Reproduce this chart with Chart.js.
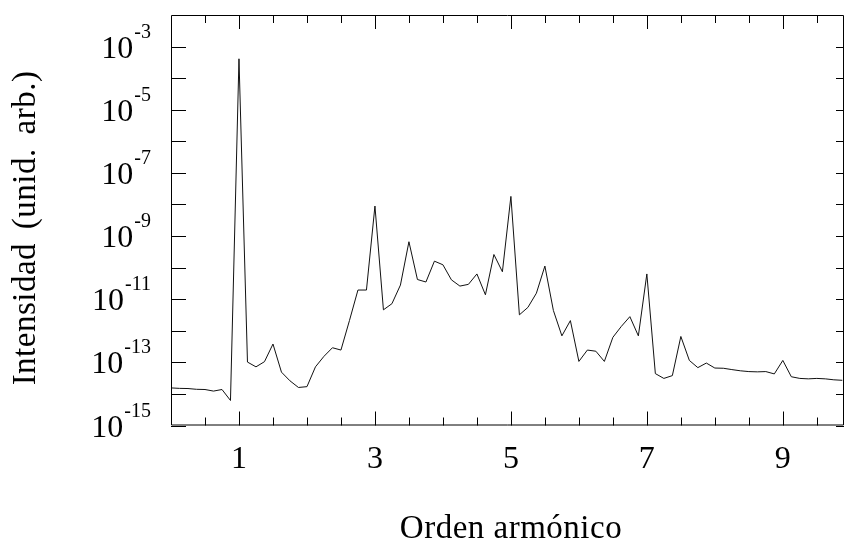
<!DOCTYPE html>
<html><head><meta charset="utf-8">
<script src="https://cdn.jsdelivr.net/npm/chart.js@4/dist/chart.umd.min.js"></script>
<style>html,body{margin:0;padding:0;background:#fff}#wrap{width:845px;height:547px;position:relative}</style>
</head><body><div id="wrap"><canvas id="c"></canvas></div>
<script>
// Harmonic order (x) and intensity (arb. units, y)
const harmonicOrder = [
  0, 0.125, 0.25, 0.375, 0.5, 0.625, 0.75, 0.875,
  1, 1.125, 1.25, 1.375, 1.5, 1.625, 1.75, 1.875,
  2, 2.125, 2.25, 2.375, 2.5, 2.625, 2.75, 2.875,
  3, 3.125, 3.25, 3.375, 3.5, 3.625, 3.75, 3.875,
  4, 4.125, 4.25, 4.375, 4.5, 4.625, 4.75, 4.875,
  5, 5.125, 5.25, 5.375, 5.5, 5.625, 5.75, 5.875,
  6, 6.125, 6.25, 6.375, 6.5, 6.625, 6.75, 6.875,
  7, 7.125, 7.25, 7.375, 7.5, 7.625, 7.75, 7.875,
  8, 8.125, 8.25, 8.375, 8.5, 8.625, 8.75, 8.875,
  9, 9.125, 9.25, 9.375, 9.5, 9.625, 9.75, 9.875
];
const intensity = [
  1.55e-14, 1.5e-14, 1.48e-14, 1.4e-14, 1.38e-14, 1.23e-14, 1.38e-14, 6.2e-15,
  4.1e-4, 1.02e-13, 7.2e-14, 1.05e-13, 3.8e-13, 4.9e-14, 2.6e-14, 1.6e-14,
  1.7e-14, 7.2e-14, 1.55e-13, 2.9e-13, 2.45e-13, 2.1e-12, 1.95e-11, 1.95e-11,
  8.9e-9, 4.6e-12, 7.2e-12, 2.8e-11, 6.6e-10, 4.2e-11, 3.5e-11, 1.6e-10,
  1.23e-10, 4.1e-11, 2.6e-11, 2.95e-11, 6.3e-11, 1.38e-11, 2.6e-10, 7.4e-11,
  1.8e-8, 3.2e-12, 5.5e-12, 1.55e-11, 1.12e-10, 4.4e-12, 6.9e-13, 2.1e-12,
  1.07e-13, 2.45e-13, 2.25e-13, 1.07e-13, 6.2e-13, 1.38e-12, 2.8e-12, 6.9e-13,
  6.3e-11, 4.4e-14, 3.1e-14, 3.8e-14, 6.6e-13, 1.15e-13, 6.8e-14, 9.5e-14,
  6.6e-14, 6.5e-14, 5.9e-14, 5.4e-14, 5.1e-14, 5.0e-14, 5.1e-14, 4.3e-14,
  1.15e-13, 3.5e-14, 3.1e-14, 3.0e-14, 3.1e-14, 3.0e-14, 2.8e-14, 2.7e-14
];
// Axis ticks
const xTickValues = [0.5, 1, 1.5, 2, 2.5, 3, 3.5, 4, 4.5, 5, 5.5, 6, 6.5, 7, 7.5, 8, 8.5, 9, 9.5];
const xTickLabels = [1, 3, 5, 7, 9];
const yTickExponents = [-15, -14, -13, -12, -11, -10, -9, -8, -7, -6, -5, -4, -3];
const yLabelExponents = [-15, -13, -11, -9, -7, -5, -3];
const xTitle = 'Orden armónico';
const yTitle = 'Intensidad (unid. arb.)';

const FONT = "'Liberation Serif', 'Times New Roman', serif";
const points = harmonicOrder.map((x, i) => ({ x: x, y: intensity[i] }));

const framePlugin = {
  id: 'frameTicks',
  afterDatasetsDraw(chart) {
    const { ctx, chartArea: a, scales } = chart;
    const xs = scales.x, ys = scales.y;
    ctx.save();
    ctx.strokeStyle = '#000';
    ctx.lineWidth = 1;
    ctx.beginPath();
    ctx.rect(a.left + 0.5, a.top + 0.5, a.right - a.left - 1, a.bottom - a.top - 1);
    ctx.stroke();
    ctx.beginPath();
    xTickValues.forEach(v => {
      const px = Math.round(xs.getPixelForValue(v)) + 0.5;
      const len = xTickLabels.includes(v) ? 14 : 8;
      ctx.moveTo(px, a.bottom); ctx.lineTo(px, a.bottom - len);
      ctx.moveTo(px, a.top); ctx.lineTo(px, a.top + len);
    });
    yTickExponents.forEach(e => {
      const py = Math.round(ys.getPixelForValue(Math.pow(10, e))) + 0.5;
      ctx.moveTo(a.left, py); ctx.lineTo(a.left + 15, py);
      ctx.moveTo(a.right, py); ctx.lineTo(a.right - 8, py);
    });
    ctx.stroke();
    // y tick labels 10^e
    ctx.fillStyle = '#000';
    ctx.textBaseline = 'alphabetic';
    ctx.textAlign = 'left';
    yLabelExponents.forEach(e => {
      const py = ys.getPixelForValue(Math.pow(10, e));
      const base = '10', sup = '-' + Math.abs(e);
      ctx.font = '32px ' + FONT;
      const wb = ctx.measureText(base).width;
      ctx.font = '20px ' + FONT;
      const ws = ctx.measureText(sup).width;
      const right = 150;
      const xb = right - ws - wb;
      ctx.font = '32px ' + FONT;
      ctx.fillText(base, xb, py + 11);
      ctx.font = '20px ' + FONT;
      ctx.fillText(sup, xb + wb + 1, py - 9);
    });
    // axis titles
    ctx.font = '33px ' + FONT;
    if ('letterSpacing' in ctx) ctx.letterSpacing = '0.5px';
    ctx.textAlign = 'center';
    ctx.textBaseline = 'alphabetic';
    ctx.fillText(xTitle, 511, 538);
    ctx.save();
    if ('wordSpacing' in ctx) ctx.wordSpacing = '5px';
    ctx.translate(35, 228);
    ctx.rotate(-Math.PI / 2);
    ctx.fillText(yTitle, 0, 0);
    ctx.restore();
    ctx.restore();
  }
};

new Chart(document.getElementById('c'), {
  type: 'line',
  data: {
    datasets: [{
      data: points,
      borderColor: '#111',
      borderWidth: 1,
      pointRadius: 0,
      tension: 0,
      fill: false
    }]
  },
  options: {
    responsive: true,
    maintainAspectRatio: false,
    animation: false,
    events: [],
    layout: { padding: { top: 15, right: 1, left: 0, bottom: 0 } },
    plugins: { legend: { display: false }, tooltip: { enabled: false } },
    scales: {
      x: {
        type: 'linear',
        min: 0,
        max: 9.9,
        grid: { display: false, drawTicks: false },
        border: { display: false },
        afterBuildTicks(scale) { scale.ticks = xTickValues.map(v => ({ value: v })); },
        afterFit(scale) { scale.height = 121.5; },
        ticks: {
          autoSkip: false,
          maxRotation: 0,
          padding: 15,
          color: '#000',
          font: { family: FONT, size: 32, lineHeight: 1.2 },
          callback: v => (xTickLabels.includes(v) ? String(v) : '')
        },
        title: { display: false }
      },
      y: {
        type: 'logarithmic',
        min: 1e-15,
        max: 1e-2,
        grid: { display: false, drawTicks: false },
        border: { display: false },
        afterBuildTicks(scale) { scale.ticks = yTickExponents.map(e => ({ value: Math.pow(10, e) })); },
        afterFit(scale) { scale.width = 171; },
        ticks: { display: false },
        title: { display: false }
      }
    }
  },
  plugins: [framePlugin]
});
</script>
</body></html>
